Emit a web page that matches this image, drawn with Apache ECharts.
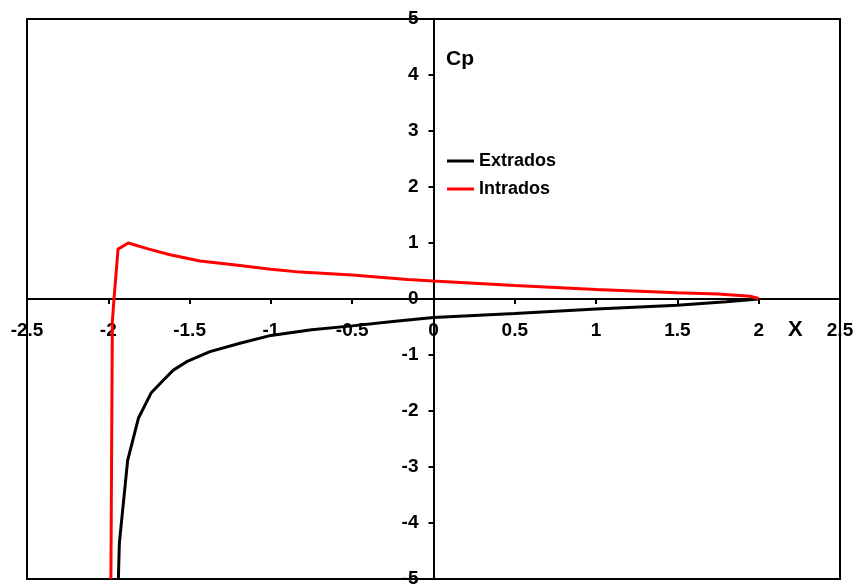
<!DOCTYPE html>
<html>
<head>
<meta charset="utf-8">
<script src="https://cdn.jsdelivr.net/npm/echarts@6/dist/echarts.min.js"></script>
<style>
  html, body { margin: 0; padding: 0; background: #fff; }
  #chart { width: 858px; height: 584px; }
</style>
</head>
<body>
<div id="chart"></div>
<script>
// Cp distribution: [x, Cp]
const extrados = [
  [-1.938, -5.0], [-1.932, -4.36], [-1.881, -2.88], [-1.815, -2.13],
  [-1.737, -1.68], [-1.662, -1.45], [-1.6, -1.27], [-1.518, -1.12],
  [-1.375, -0.94], [-1.19, -0.79], [-1.0, -0.65], [-0.75, -0.55],
  [-0.5, -0.48], [-0.25, -0.4], [0.0, -0.33], [0.5, -0.26],
  [1.0, -0.18], [1.5, -0.11], [1.8, -0.05], [2.0, 0.0]
];
const intrados = [
  [-1.984, -5.0], [-1.975, -0.4], [-1.965, 0.0], [-1.94, 0.89],
  [-1.877, 1.0], [-1.75, 0.89], [-1.62, 0.79], [-1.436, 0.68],
  [-1.23, 0.61], [-1.0, 0.53], [-0.82, 0.48], [-0.5, 0.43],
  [-0.16, 0.35], [0.0, 0.32], [0.5, 0.24], [1.0, 0.17],
  [1.5, 0.11], [1.75, 0.09], [1.947, 0.05], [2.0, 0.01]
];
const seriesNames = ["Extrados", "Intrados"];

let myChart = echarts.init(document.getElementById("chart"));
const font = "Liberation Sans, Arial, sans-serif";

// plot box: 27..840 wide, 19..579 high; axes cross at (0, 0)
let option = {
  animation: false,
  grid: {
    left: 27, right: 18, top: 19, bottom: 5,
    outerBoundsMode: "none",
    show: true,
    borderColor: "#000",
    borderWidth: 2
  },
  legend: {
    orient: "vertical",
    left: 447,
    top: 152,
    padding: 0,
    icon: "rect",
    itemGap: 10,
    itemWidth: 27,
    itemHeight: 3,
    textStyle: { fontFamily: font, fontWeight: "bold", fontSize: 18, color: "#000" },
    data: seriesNames
  },
  graphic: [
    { type: "text", left: 788, top: 319, style: { text: "X", font: "bold 22px " + font, fill: "#000" } },
    { type: "text", left: 446, top: 49, style: { text: "Cp", font: "bold 21px " + font, fill: "#000" } }
  ],
  xAxis: {
    type: "value",
    min: -2.5,
    max: 2.5,
    interval: 0.5,
    position: "bottom",
    offset: -280,
    axisLine: { onZero: false, lineStyle: { color: "#000", width: 2 } },
    axisTick: { length: 5, lineStyle: { color: "#000", width: 2 } },
    axisLabel: {
      margin: 22,
      color: "#000",
      fontFamily: font,
      fontWeight: "bold",
      fontSize: 19,
      showMinLabel: true,
      showMaxLabel: true,
      hideOverlap: false
    },
    splitLine: { show: false }
  },
  yAxis: {
    type: "value",
    min: -5,
    max: 5,
    interval: 1,
    position: "left",
    offset: -406.5,
    axisLine: { onZero: false, lineStyle: { color: "#000", width: 2 } },
    axisTick: { length: 5, lineStyle: { color: "#000", width: 2 } },
    axisLabel: {
      margin: 15,
      color: "#000",
      fontFamily: font,
      fontWeight: "bold",
      fontSize: 19,
      showMinLabel: true,
      showMaxLabel: true,
      hideOverlap: false
    },
    splitLine: { show: false }
  },
  series: [
    {
      type: "line",
      name: seriesNames[0],
      data: extrados,
      showSymbol: false,
      symbol: "none",
      color: "#000",
      lineStyle: { color: "#000", width: 3 }
    },
    {
      type: "line",
      name: seriesNames[1],
      data: intrados,
      showSymbol: false,
      symbol: "none",
      color: "#ff0000",
      lineStyle: { color: "#ff0000", width: 3 }
    }
  ]
};
myChart.setOption(option);
</script>
</body>
</html>
